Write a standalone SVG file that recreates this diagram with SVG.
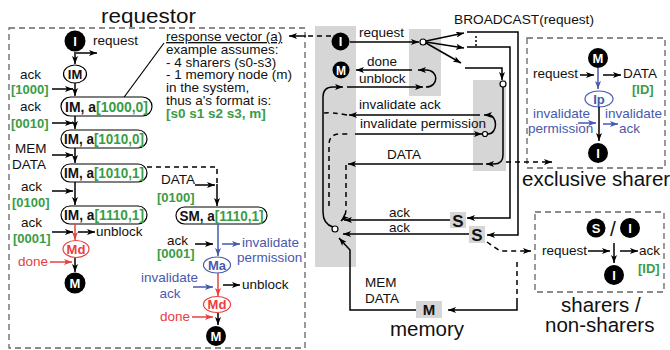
<svg xmlns="http://www.w3.org/2000/svg" width="670" height="350" viewBox="0 0 670 350">
<defs>
  <marker id="ah" viewBox="0 0 8 6" refX="8" refY="3" markerWidth="8" markerHeight="6" markerUnits="userSpaceOnUse" orient="auto"><path d="M0,0 L8,3 L0,6 L2,3 z" fill="#000"/></marker>
  <marker id="ahb" viewBox="0 0 8 6" refX="8" refY="3" markerWidth="8" markerHeight="6" markerUnits="userSpaceOnUse" orient="auto"><path d="M0,0 L8,3 L0,6 L2,3 z" fill="#4759ad"/></marker>
  <marker id="ahr" viewBox="0 0 8 6" refX="8" refY="3" markerWidth="8" markerHeight="6" markerUnits="userSpaceOnUse" orient="auto"><path d="M0,0 L8,3 L0,6 L2,3 z" fill="#e8403f"/></marker>
  <style>
    text { font-family: "Liberation Sans", Arial, sans-serif; font-size: 13.5px; fill: #111; }
    .title { font-size: 20.5px; }
    .g { fill: #3a9c45; font-weight: bold; }
    .bl { fill: #4759ad; }
    .rd { fill: #e8403f; }
    .nb { font-weight: bold; font-size: 14px; text-anchor: middle; }
    .wl { fill: #fff; font-weight: bold; font-size: 13px; text-anchor: middle; }
    .sl { font-weight: bold; font-size: 17px; text-anchor: middle; }
    .box { fill: none; stroke: #666; stroke-width: 1.3; stroke-dasharray: 6 4; }
    .shade { fill: #d6d6d6; }
    .dot { fill: #000; }
    .pill { fill: #fff; stroke: #000; stroke-width: 1.2; }
    .ln { fill: none; stroke: #000; stroke-width: 1.5; }
    .a { fill: none; stroke: #000; stroke-width: 1.5; marker-end: url(#ah); }
    .ab { fill: none; stroke: #4759ad; stroke-width: 1.5; marker-end: url(#ahb); }
    .ar { fill: none; stroke: #e8403f; stroke-width: 1.5; marker-end: url(#ahr); }
    .d { stroke-dasharray: 5 4; }
    .jn { fill: #fff; stroke: #000; stroke-width: 1.2; }
  </style>
</defs>
<rect width="670" height="350" fill="#fff"/>

<!-- shaded lanes of the message flow -->
<rect class="shade" x="315" y="26" width="41" height="241"/>
<rect class="shade" x="409" y="29" width="32" height="67"/>
<rect class="shade" x="473" y="80" width="33" height="91"/>

<!-- frames and titles -->
<rect class="box" x="9" y="28" width="296" height="320"/>
<text class="title" x="101" y="23" textLength="95" lengthAdjust="spacingAndGlyphs">requestor</text>
<rect class="box" x="527" y="38" width="138" height="130"/>
<text class="title" x="522" y="186">exclusive sharer</text>
<rect class="box" x="535" y="212" width="129" height="80"/>
<text class="title" x="561" y="312">sharers /</text>
<text class="title" x="545" y="332">non-sharers</text>
<text class="title" x="390" y="336">memory</text>
<text x="454" y="24" style="font-size:13.7px">BROADCAST(request)</text>

<!-- response vector note -->
<g id="note">
  <line class="ln" x1="122" y1="100" x2="164" y2="43" style="stroke-width:1.2"/>
  <text x="166" y="41" text-decoration="underline">response vector (a)</text>
  <text x="166" y="54">example assumes:</text>
  <text x="166" y="66.5">- 4 sharers (s0-s3)</text>
  <text x="166" y="79">- 1 memory node (m)</text>
  <text x="166" y="92">in the system,</text>
  <text x="166" y="104.5">thus a's format is:</text>
  <text x="166" y="117.5" class="g">[s0 s1 s2 s3, m]</text>
</g>

<!-- requestor state machine: main path -->
<g id="req-I"><circle cx="75" cy="41" r="10.5"/><text class="wl" x="75" y="45.5">I</text></g>
<g id="req-IM"><ellipse class="pill" cx="75" cy="74" rx="11.5" ry="9"/><text class="nb" x="75" y="78.5" style="font-size:13px">IM</text></g>
<g id="req-IM-1000-0"><rect class="pill" x="61" y="97" width="91" height="19" rx="9.5"/><text class="nb" x="106.5" y="111.5" textLength="83" lengthAdjust="spacingAndGlyphs">IM, a<tspan class="g">[1000,0]</tspan></text></g>
<g id="req-IM-1010-0"><rect class="pill" x="61" y="130" width="86" height="18" rx="9"/><text class="nb" x="104" y="144" textLength="80" lengthAdjust="spacingAndGlyphs">IM, a<tspan class="g">[1010,0]</tspan></text></g>
<g id="req-IM-1010-1"><rect class="pill" x="61" y="164" width="86" height="18" rx="9"/><text class="nb" x="104" y="178" textLength="80" lengthAdjust="spacingAndGlyphs">IM, a<tspan class="g">[1010,1]</tspan></text></g>
<g id="req-IM-1110-1"><rect class="pill" x="61" y="206" width="86" height="18" rx="9"/><text class="nb" x="104" y="220" textLength="80" lengthAdjust="spacingAndGlyphs">IM, a<tspan class="g">[1110,1]</tspan></text></g>
<g id="req-Md"><ellipse cx="76" cy="249" rx="13" ry="8.5" fill="#fff" stroke="#e8403f" stroke-width="1.2"/><text class="nb rd" x="76" y="253.5" style="font-size:13px">Md</text></g>
<g id="req-M"><circle cx="75" cy="283" r="10.5"/><text class="wl" x="75" y="287.5">M</text></g>

<!-- requestor state machine: SM branch -->
<g id="req-SM"><rect class="pill" x="176" y="207" width="91" height="17" rx="8.5"/><text class="nb" x="221.5" y="220.5" textLength="84" lengthAdjust="spacingAndGlyphs">SM, a<tspan class="g">[1110,1]</tspan></text></g>
<g id="req-Ma"><ellipse cx="217" cy="265" rx="13.5" ry="8" fill="#fff" stroke="#4759ad" stroke-width="1.2"/><text class="nb bl" x="217" y="269.5" style="font-size:13px">Ma</text></g>
<g id="req-Md2"><ellipse cx="217" cy="304.5" rx="13.5" ry="8" fill="#fff" stroke="#e8403f" stroke-width="1.2"/><text class="nb rd" x="217" y="309" style="font-size:13px">Md</text></g>
<g id="req-M2"><circle cx="216" cy="336" r="10"/><text class="wl" x="216" y="340.5">M</text></g>

<!-- message flow nodes -->
<g id="flow-I"><circle cx="340.5" cy="41.5" r="9"/><text class="wl" x="340.5" y="46">I</text></g>
<g id="flow-M"><circle cx="341" cy="70" r="8.5"/><text class="wl" x="341" y="74.5" style="font-size:12px">M</text></g>
<g id="flow-S1"><rect class="shade" x="450" y="212" width="16" height="16"/><text class="sl" x="458" y="226.5">S</text></g>
<g id="flow-S2"><rect class="shade" x="469" y="226" width="16" height="17"/><text class="sl" x="477" y="241">S</text></g>
<g id="flow-mem"><rect class="shade" x="416" y="301" width="26" height="17"/><text class="sl" x="429" y="315" style="font-size:15px">M</text></g>

<!-- exclusive sharer state machine -->
<g id="ex-M"><circle cx="598" cy="58" r="10"/><text class="wl" x="598" y="62.5">M</text></g>
<g id="ex-Ip"><ellipse cx="599" cy="99" rx="14" ry="8" fill="#fff" stroke="#4759ad" stroke-width="1.2"/><text class="nb bl" x="599" y="103.5" style="font-size:13px">Ip</text></g>
<g id="ex-I"><circle cx="598" cy="153" r="10"/><text class="wl" x="598" y="157.5">I</text></g>

<!-- sharers / non-sharers state machine -->
<g id="sh-S"><circle cx="596" cy="228" r="9.5"/><text class="wl" x="596" y="232.5">S</text></g>
<g id="sh-I"><circle cx="630" cy="228" r="10"/><text class="wl" x="630" y="232.5">I</text></g>
<text x="613" y="236" style="font-size:21px" text-anchor="middle">/</text>
<g id="sh-I2"><circle cx="614" cy="275" r="10"/><text class="wl" x="614" y="279.5">I</text></g>

<!-- connectors -->
<g id="connectors">
  <!-- requestor main path -->
  <path class="a" d="M75,52 V64"/>
  <path class="a" d="M76,53 H97"/>
  <text x="93" y="45">request</text>
  <path class="a" d="M75,83 V96"/>
  <path class="a" d="M52,89 H73"/>
  <text x="20" y="79">ack</text>
  <text class="g" x="11" y="94" style="font-size:13px">[1000]</text>
  <path class="a" d="M75,116 V129"/>
  <path class="a" d="M52,123 H73"/>
  <text x="20" y="111">ack</text>
  <text class="g" x="11" y="128" style="font-size:13px">[0010]</text>
  <path class="a" d="M75,148 V163"/>
  <path class="a" d="M52,155 H73"/>
  <text x="15" y="153">MEM</text>
  <text x="12" y="169">DATA</text>
  <path class="a" d="M75,182 V205"/>
  <path class="a" d="M52,191 H73"/>
  <text x="21" y="191">ack</text>
  <text class="g" x="12" y="207" style="font-size:13px">[0100]</text>
  <path class="ar" d="M75,224 V240"/>
  <path class="a" d="M52,232 H73"/>
  <path class="a" d="M78,232 H95"/>
  <text x="21" y="227">ack</text>
  <text class="g" x="13" y="243" style="font-size:13px">[0001]</text>
  <text x="96" y="236">unblock</text>
  <path class="a" d="M75,258 V272"/>
  <path class="ar" d="M50,262 H72"/>
  <text class="rd" x="18" y="266">done</text>

  <!-- requestor SM branch -->
  <path class="ln d" d="M147,167 H217 V184"/>
  <path class="a" d="M217,184 V206"/>
  <path class="a" d="M195,185 H215"/>
  <text x="161" y="184">DATA</text>
  <text class="g" x="157" y="202" style="font-size:13px">[0100]</text>
  <path class="ab" d="M218,224 V256"/>
  <path class="a" d="M195,244 H213"/>
  <path class="ab" d="M222,244 H240"/>
  <text x="167" y="245">ack</text>
  <text class="g" x="157" y="258" style="font-size:13px">[0001]</text>
  <text class="bl" x="242" y="247">invalidate</text>
  <text class="bl" x="237" y="262">permission</text>
  <path class="ar" d="M218,273 V296"/>
  <path class="ab" d="M193,287 H213"/>
  <path class="a" d="M223,285 H240"/>
  <text class="bl" x="141" y="282">invalidate</text>
  <text class="bl" x="170" y="298" text-anchor="middle">ack</text>
  <text x="242" y="289">unblock</text>
  <path class="a" d="M218,313 V325"/>
  <path class="ar" d="M192,317 H213"/>
  <text class="rd" x="160" y="321">done</text>

  <!-- response vector link back to the requestor -->
  <path class="ln d" d="M331,36 H306"/>
  <path class="a" d="M306,36 H289"/>

  <!-- broadcast of the request -->
  <path class="a" d="M350,42 H419"/>
  <text x="359" y="37">request</text>
  <circle class="jn" cx="423" cy="42" r="3"/>
  <path class="a" d="M426,41 L464,33"/>
  <path class="a" d="M426,42 L464,48"/>
  <path class="a" d="M426,43 L461,63"/>
  <circle class="dot" cx="476" cy="37" r="1"/>
  <circle class="dot" cx="476" cy="41" r="1"/>
  <circle class="dot" cx="476" cy="45" r="1"/>
  <path class="a" d="M467,32 H518 V235 H487"/>
  <path class="a" d="M467,47 H510 V218 H467"/>
  <path class="a" d="M465,68 H502 V80"/>
  <circle class="jn" cx="503" cy="84" r="3"/>

  <!-- exclusive sharer replies -->
  <path class="a" d="M503,87 V155 Q503,164 494,164 H486"/>
  <path class="a" d="M483,164 H348"/>
  <text x="387" y="159">DATA</text>
  <path class="ln d" d="M506,162 H545"/>
  <path class="a" d="M545,162 H552"/>
  <path class="a" d="M355,134 H482"/>
  <circle class="jn" cx="485" cy="134" r="2.5"/>
  <path class="a" d="M488,134 C498,134 498,115 488,115 H484"/>
  <path class="a" d="M480,115 H349"/>
  <text x="359" y="109">invalidate ack</text>
  <text x="360" y="128">invalidate permission</text>
  <path class="ln d" d="M347,115 Q332,112 324,113"/>
  <path class="ln d" d="M329,206 V145 Q329,134 340,134 H350"/>
  <path class="ln d" d="M346,165 V208 Q346,216 342,220"/>
  <path class="a" d="M344,218 L341,221"/>

  <!-- sharer acks and memory data gathered at the join -->
  <path class="a" d="M450,220 H344"/>
  <path class="a" d="M469,234 H343"/>
  <text x="389" y="217">ack</text>
  <text x="389" y="232">ack</text>
  <circle class="jn" cx="335" cy="229" r="3"/>
  <path class="a" d="M416,310 H350 V250 L339,238"/>
  <text x="365" y="287">MEM</text>
  <text x="365" y="303">DATA</text>
  <path class="ln d" d="M517,262 V300"/>
  <path class="a" d="M517,300 V310 H448"/>
  <path class="ln d" d="M487,242 L500,251 H524"/>
  <path class="a" d="M524,251 H531"/>

  <!-- unblock / done handshake -->
  <path class="a" d="M333,227 Q323,224 323,212 V97 Q323,87 333,87 H343"/>
  <path class="a" d="M347,87 H423"/>
  <text x="359" y="83">unblock</text>
  <path class="a" d="M426,87 C439,87 439,70 426,70 H418"/>
  <path class="a" d="M412,70 H356"/>
  <text x="367" y="66">done</text>

  <!-- exclusive sharer transitions -->
  <path class="a" d="M580,75 H594"/>
  <text x="533" y="78">request</text>
  <path class="ab" d="M598,68 V89"/>
  <path class="a" d="M603,75 H621"/>
  <text x="623" y="78">DATA</text>
  <text class="g" x="632" y="94" style="font-size:13px">[ID]</text>
  <path class="a" d="M599,107 V141"/>
  <path class="ab" d="M578,123 H596"/>
  <path class="ab" d="M603,124 H618"/>
  <text class="bl" x="533" y="118">invalidate</text>
  <text class="bl" x="528" y="133">permission</text>
  <text class="bl" x="605" y="118">invalidate</text>
  <text class="bl" x="619" y="133">ack</text>

  <!-- sharers transitions -->
  <path class="a" d="M614,243 V263"/>
  <path class="a" d="M588,251 H610"/>
  <path class="a" d="M620,251 H638"/>
  <text x="542" y="255">request</text>
  <text x="639" y="255">ack</text>
  <text class="g" x="638" y="273" style="font-size:13px">[ID]</text>
</g>
</svg>
